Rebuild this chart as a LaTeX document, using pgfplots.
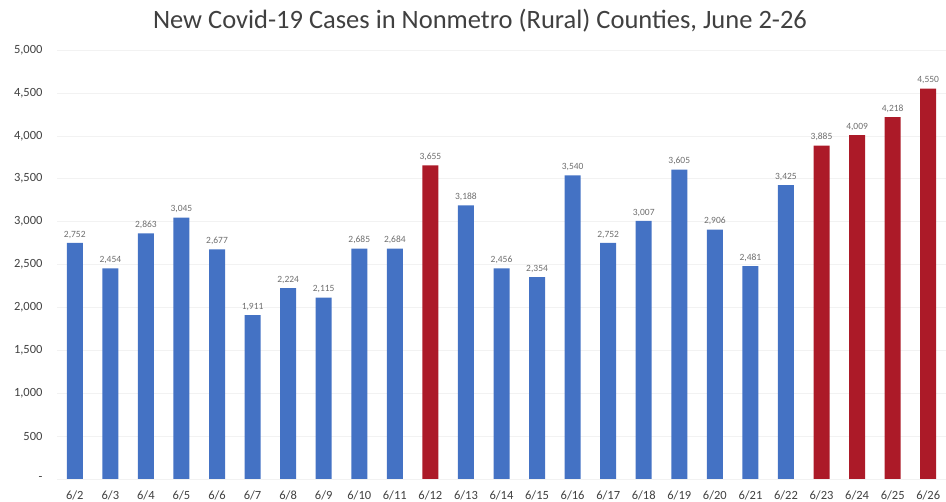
\documentclass[border=0pt]{standalone}
\usepackage{pgfplots}
\pgfplotsset{compat=1.18}
\usepackage{fontspec}
\setmainfont{Carlito}
\definecolor{barblue}{RGB}{68,114,196}
\definecolor{barred}{RGB}{172,26,40}
\definecolor{txtgray}{RGB}{64,64,64}
\definecolor{lblgray}{RGB}{110,110,110}

\begin{document}
\begin{tikzpicture}[x=1pt,y=1pt]
  \path[use as bounding box] (0,0) rectangle (946,502);
  \begin{axis}[
    at={(57pt,23pt)}, anchor=south west,
    scale only axis,
    width=889pt, height=429pt,
    ybar, bar width=16pt, bar shift=0pt,
    xmin=-0.5, xmax=24.5,
    ymin=0, ymax=5000,
    ytick={0,500,...,5000},
    yticklabels={-,500,{1,000},{1,500},{2,000},{2,500},{3,000},{3,500},{4,000},{4,500},{5,000}},
    xtick={0,...,24},
    xticklabels={6/2,6/3,6/4,6/5,6/6,6/7,6/8,6/9,6/10,6/11,6/12,6/13,6/14,6/15,6/16,6/17,6/18,6/19,6/20,6/21,6/22,6/23,6/24,6/25,6/26},
    major tick length=0pt,
    axis line style={draw=none},
    ymajorgrids, grid style={black!5},
    yticklabel style={font=\fontsize{12.5}{14}\selectfont, text=txtgray, xshift=-11pt},
    xticklabel style={font=\fontsize{12.5}{14}\selectfont, text=txtgray, yshift=-8pt},
    nodes near coords,
    nodes near coords style={font=\fontsize{9.5}{11}\selectfont, text=lblgray,
      /pgf/number format/1000 sep={,}, /pgf/number format/assume math mode=true, yshift=1pt},
  ]
    \addplot[fill=barblue, draw=none] coordinates {
      (0,2752) (1,2454) (2,2863) (3,3045) (4,2677) (5,1911) (6,2224) (7,2115)
      (8,2685) (9,2684) (11,3188) (12,2456) (13,2354) (14,3540) (15,2752)
      (16,3007) (17,3605) (18,2906) (19,2481) (20,3425)
    };
    \addplot[fill=barred, draw=none] coordinates {
      (10,3655) (21,3885) (22,4009) (23,4218) (24,4550)
    };
  \end{axis}
  \node[font=\fontsize{26.5}{30}\selectfont, text=txtgray] at (480,481) {New Covid-19 Cases in Nonmetro (Rural) Counties, June 2-26};
\end{tikzpicture}
\end{document}
